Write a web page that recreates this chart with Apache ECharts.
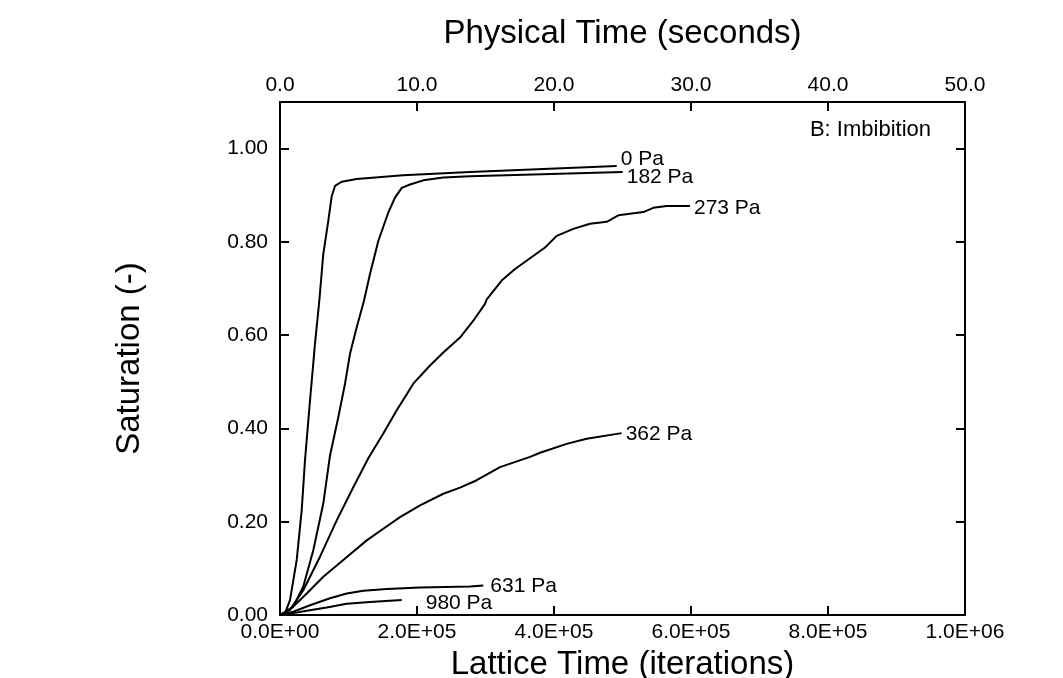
<!DOCTYPE html>
<html>
<head>
<meta charset="utf-8">
<script src="https://cdn.jsdelivr.net/npm/echarts@6/dist/echarts.min.js"></script>
<style>
  html, body { margin: 0; padding: 0; background: #fff; }
  #chart { width: 1063px; height: 678px; }
</style>
</head>
<body>
<div id="chart"></div>
<script>
// iterations vs saturation
var p0 = [[0,0],[7300,0.004],[14600,0.032],[24400,0.118],[31700,0.225],[36500,0.332],[43800,0.46],[51100,0.582],[57400,0.674],[63200,0.774],[70500,0.845],[75500,0.898],[80300,0.92],[90100,0.929],[112000,0.935],[179600,0.943],[277400,0.95],[491500,0.963]];
var p182 = [[0,0],[7300,0.004],[19400,0.018],[34000,0.061],[48600,0.139],[63200,0.239],[73000,0.342],[85100,0.424],[94900,0.496],[102200,0.56],[112000,0.617],[122600,0.674],[131400,0.731],[143500,0.802],[158100,0.863],[167900,0.895],[177700,0.916],[189800,0.923],[209200,0.932],[238400,0.938],[277400,0.941],[500300,0.95]];
var p273 = [[0,0],[14600,0.011],[34000,0.053],[58400,0.125],[82800,0.203],[107000,0.274],[128900,0.336],[150800,0.389],[170400,0.439],[194600,0.496],[219000,0.535],[238400,0.563],[262800,0.595],[282200,0.631],[299300,0.667],[301800,0.677],[323600,0.717],[343100,0.742],[365000,0.765],[386900,0.788],[404000,0.813],[428200,0.828],[452600,0.839],[477000,0.843],[493900,0.857],[530400,0.864],[545000,0.873],[564500,0.877],[598500,0.877]];
var p362 = [[0,0],[19400,0.018],[39000,0.046],[63200,0.082],[92400,0.118],[126600,0.16],[150800,0.185],[175200,0.21],[204400,0.235],[238400,0.26],[262800,0.273],[287200,0.289],[321200,0.317],[365000,0.339],[379600,0.348],[418500,0.367],[447700,0.378],[498800,0.39]];
var p631 = [[0,0],[19400,0.007],[43800,0.021],[73000,0.036],[97400,0.046],[121600,0.052],[155800,0.056],[204400,0.059],[277400,0.061],[296800,0.063]];
var p980 = [[0,0],[19400,0.004],[39000,0.009],[68200,0.016],[97400,0.024],[131400,0.028],[177700,0.032]];

var names = ['0 Pa', '182 Pa', '273 Pa', '362 Pa', '631 Pa', '980 Pa'];
var curves = [p0, p182, p273, p362, p631, p980];
var labelOffsets = [[0, -7], [0, 5], [0, 2], [0, 1], [3, 1], [20, 3]];

var chart = echarts.init(document.getElementById('chart'));
var font = 'Liberation Sans, Arial, sans-serif';

function sci(v) {
  if (v === 0) return '0.0E+00';
  var e = Math.floor(Math.log10(v) + 1e-9);
  var m = v / Math.pow(10, e);
  return m.toFixed(1) + 'E+' + (e < 10 ? '0' + e : e);
}

var series = curves.map(function (d, i) {
  return {
    name: names[i],
    type: 'line',
    xAxisIndex: 0,
    yAxisIndex: 0,
    data: d,
    showSymbol: false,
    smooth: false,
    lineStyle: { color: '#000', width: 2 },
    endLabel: {
      show: true,
      formatter: '{a}',
      color: '#000',
      fontFamily: font,
      fontSize: 21,
      distance: 4,
      offset: labelOffsets[i]
    },
    emphasis: { disabled: true },
    silent: true
  };
});

var tick = { inside: true, length: 9, lineStyle: { color: '#000', width: 2 } };
var line = { onZero: false, lineStyle: { color: '#000', width: 2 } };
var nameStyle = { fontFamily: font, fontSize: 33, color: '#000' };

chart.setOption({
  animation: false,
  grid: { left: 280, right: 98, top: 102, bottom: 63, outerBoundsMode: 'none', containLabel: false },
  title: {
    text: 'B: Imbibition',
    right: 127,
    top: 114,
    textStyle: { fontFamily: font, fontSize: 22, fontWeight: 'normal', color: '#000' }
  },
  xAxis: [{
    type: 'value',
    position: 'bottom',
    min: 0, max: 1000000, interval: 200000,
    name: 'Lattice Time (iterations)',
    nameLocation: 'middle',
    nameGap: 33,
    nameTextStyle: nameStyle,
    axisLine: line,
    axisTick: tick,
    axisLabel: { formatter: sci, color: '#000', fontFamily: font, fontSize: 21, margin: 7 },
    splitLine: { show: false }
  }, {
    type: 'value',
    position: 'top',
    min: 0, max: 50, interval: 10,
    name: 'Physical Time (seconds)',
    nameLocation: 'middle',
    nameGap: 52,
    nameTextStyle: nameStyle,
    axisLine: line,
    axisTick: tick,
    axisLabel: { formatter: function (v) { return v.toFixed(1); }, color: '#000', fontFamily: font, fontSize: 21, margin: 6 },
    splitLine: { show: false }
  }],
  yAxis: [{
    type: 'value',
    position: 'left',
    min: 0, max: 1.1, interval: 0.2,
    name: 'Saturation (-)',
    nameLocation: 'middle',
    nameGap: 134,
    nameTextStyle: nameStyle,
    axisLine: line,
    axisTick: tick,
    axisLabel: { formatter: function (v) { return v > 1.05 ? '' : v.toFixed(2); }, color: '#000', fontFamily: font, fontSize: 21, margin: 12 },
    splitLine: { show: false }
  }, {
    type: 'value',
    position: 'right',
    min: 0, max: 1.1, interval: 0.2,
    axisLine: line,
    axisTick: tick,
    axisLabel: { show: false },
    splitLine: { show: false }
  }],
  series: series
});

window.addEventListener('resize', function () { chart.resize(); });
</script>
</body>
</html>
